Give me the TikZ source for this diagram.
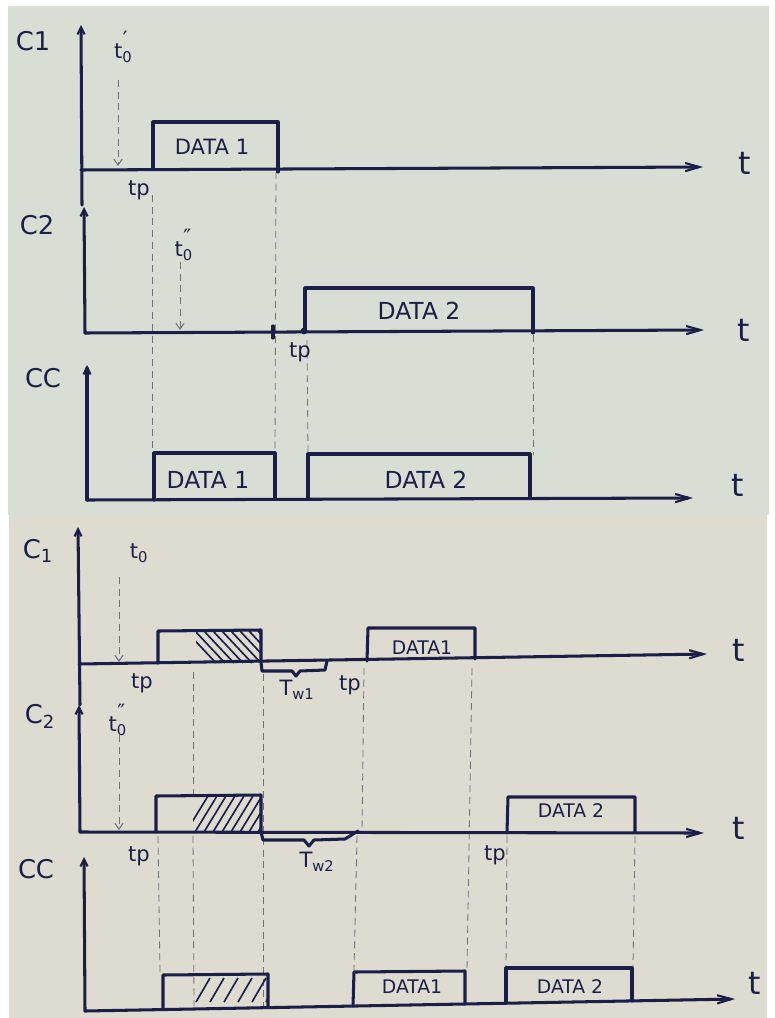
\documentclass[tikz,border=0pt]{standalone}
\usepackage{fontspec}
\setmainfont{DejaVu Sans}
\usetikzlibrary{arrows.meta}
\definecolor{inkc}{HTML}{1B1F48}
\definecolor{guidec}{HTML}{6E7178}
\definecolor{papertop}{HTML}{D9DED4}
\definecolor{paperbot}{HTML}{DEDCD1}
\tikzset{
  ink/.style={draw=inkc, line width=2.6pt, line join=round, line cap=round},
  haxis/.style={ink, -{Straight Barb[length=12pt,width=7pt,line width=1.8pt]}},
  vaxis/.style={ink, -{Straight Barb[length=6pt,width=6pt,line width=1.8pt]}},
  guide/.style={draw=guidec, line width=0.7pt, dash pattern=on 6pt off 4pt},
  garrow/.style={guide, -{Straight Barb[length=5pt,width=7pt,line width=0.9pt]}},
  hatch/.style={draw=inkc, line width=1.4pt},
  lbl/.style={text=inkc, inner sep=0pt, font=\fontsize{22}{22}\selectfont},
  tl/.style={text=inkc, inner sep=0pt, font=\fontsize{27}{27}\selectfont},
  small/.style={text=inkc, inner sep=0pt, font=\fontsize{18}{18}\selectfont},
  datal/.style={text=inkc, inner sep=0pt, font=\fontsize{18}{18}\selectfont},
}
\begin{document}
\begin{tikzpicture}[x=0.03cm,y=-0.03cm]
\useasboundingbox (0,0) rectangle (774,1018);
\fill[white] (0,0) rectangle (774,1018);
\fill[papertop] (8,6) rectangle (769,515);
\fill[paperbot] (9,515) rectangle (767,1018);

% ================= TOP PANEL =================
% guides
\draw[guide] (152,195) -- (152,453);
\draw[guide] (276,172) -- (275,455);
\draw[guide] (307,340) -- (308,455);
\draw[guide] (533,335) -- (533,455);
\draw[garrow] (118,80) -- (118,166);
\draw[garrow] (180,262) -- (180,330);

% C1
\draw[vaxis] (82,205) -- (81,25);
\draw[haxis] (81,170) -- (703,167);
\draw[ink] (153,169) -- (153,122) -- (278,122) -- (278,172);
\node[lbl] (c1a) at (33,41) {C1};
\node[small] (t0a) at (121,47) {t\textsubscript{0}\kern-0.45em\raisebox{0.6em}{′}};
\node[small] (tpa) at (139,190) {tp};
\node[tl] (ta) at (745,163) {t};
\node[datal] (d1a) at (212,147) {DATA 1};

% C2
\draw[vaxis] (85,333) -- (84,207);
\draw[haxis] (85,333) -- (704,330);
\draw[ink] (273,326) -- (273,338);
\fill[inkc] (304,331) circle (3.4);
\draw[ink] (305,331) -- (305,288) -- (533,288) -- (533,333);
\node[lbl] (c2a) at (37,225) {C2};
\node[small] (t0b) at (183,245) {t\textsubscript{0}\kern-0.45em\raisebox{0.6em}{″}};
\node[small] (tpb) at (300,352) {tp};
\node[tl] (tb) at (744,330) {t};
\node[datal, font=\fontsize{20}{20}\selectfont] (d2a) at (419,311) {DATA 2};

% CC
\draw[vaxis] (87,500) -- (87,365);
\draw[haxis] (87,500) -- (693,498);
\draw[ink] (154,500) -- (154,453) -- (275,453) -- (275,498);
\draw[ink] (308,499) -- (308,454) -- (530,454) -- (530,498);
\node[lbl] (cca) at (43,378) {CC};
\node[tl] (tc) at (738,485) {t};
\node[datal, font=\fontsize{20}{20}\selectfont] (d1b) at (208,480) {DATA 1};
\node[datal, font=\fontsize{20}{20}\selectfont] (d2b) at (426,480) {DATA 2};

% ================= BOTTOM PANEL =================
% guides
\draw[garrow] (119,577) -- (119,662);
\draw[garrow] (119,735) -- (119,830);
\draw[guide] (158,836) -- (160,972);
\draw[guide] (193,672) -- (193,795);
\draw[guide] (193,836) -- (194,1006);
\draw[guide] (263,674) -- (263,1006);
\draw[guide] (364,668) -- (362,832);
\draw[guide] (357,836) -- (354,970);
\draw[guide] (472,668) -- (467,970);
\draw[guide] (507,836) -- (506,968);
\draw[guide] (635,836) -- (633,968);

% C1
\draw[vaxis] (80,705) -- (78,527);
\draw[haxis] (79,664) -- (707,654);
\draw[ink] (158,663) -- (158,631) -- (261,630) -- (261,662);
\begin{scope}
  \clip (196,631) rectangle (261,663);
  \foreach \i in {0,...,9} \draw[hatch] (186+\i*9,631) -- ++(30,32);
\end{scope}
\draw[ink] (261,662) -- (262,671) -- (292,671) -- (296,676) -- (300,671) -- (325,670) -- (327,661);
\draw[ink] (367,661) -- (368,628) -- (475,628) -- (475,659);
\node[lbl] (c1b) at (38,551) {C\textsubscript{1}};
\node[small] (t0c) at (139,553) {t\textsubscript{0}};
\node[small] (tpc) at (142,683) {tp};
\node[small] (tw1) at (297,690) {T\textsubscript{w1}};
\node[small] (tpd) at (350,685) {tp};
\node[tl] (td) at (739,650) {t};
\node[datal, font=\fontsize{16}{16}\selectfont] (d1c) at (422,648) {DATA1};

% C2
\draw[vaxis] (80,832) -- (79,705);
\draw[haxis] (80,832) -- (704,833);
\draw[ink] (156,832) -- (156,796) -- (261,795) -- (261,832);
\begin{scope}
  \clip (193,796) rectangle (261,832);
  \foreach \i in {0,...,9} \draw[hatch] (186+\i*9,832) -- ++(22,-36);
\end{scope}
\draw[ink] (261,832) -- (263,840) -- (304,840) -- (309,846) -- (314,840) -- (345,839) -- (358,831);
\draw[ink] (507,833) -- (508,797) -- (635,797) -- (635,832);
\node[lbl] (c2b) at (40,716) {C\textsubscript{2}};
\node[small] (t0d) at (117,720) {t\textsubscript{0}\kern-0.45em\raisebox{0.6em}{″}};
\node[small] (tpe) at (139,856) {tp};
\node[small] (tw2) at (317,862) {T\textsubscript{w2}};
\node[small] (tpf) at (495,855) {tp};
\node[tl] (te) at (739,828) {t};
\node[datal, font=\fontsize{16}{16}\selectfont] (d2c) at (571,811) {DATA 2};

% CC
\draw[vaxis] (85,1011) -- (84,857);
\draw[haxis] (85,1011) -- (735,999);
\draw[ink] (163,1009.6) -- (163,975) -- (268,974) -- (268,1007.6);
\begin{scope}
  \clip (195,975) rectangle (268,1008);
  \foreach \i in {0,...,6} \draw[hatch] (196+\i*14,1002) -- ++(14,-24);
\end{scope}
\draw[ink] (353,1006.1) -- (354,972) -- (465,971) -- (465,1004);
\draw[ink] (506,1003.2) -- (506,968) -- (632,968) -- (632,1000.9);
\node[lbl] (ccb) at (36,869) {CC};
\node[tl] (tf) at (755,983) {t};
\node[datal, font=\fontsize{16}{16}\selectfont] (d1d) at (412,987) {DATA1};
\node[datal, font=\fontsize{16}{16}\selectfont] (d2d) at (570,987) {DATA 2};
\end{tikzpicture}
\end{document}
